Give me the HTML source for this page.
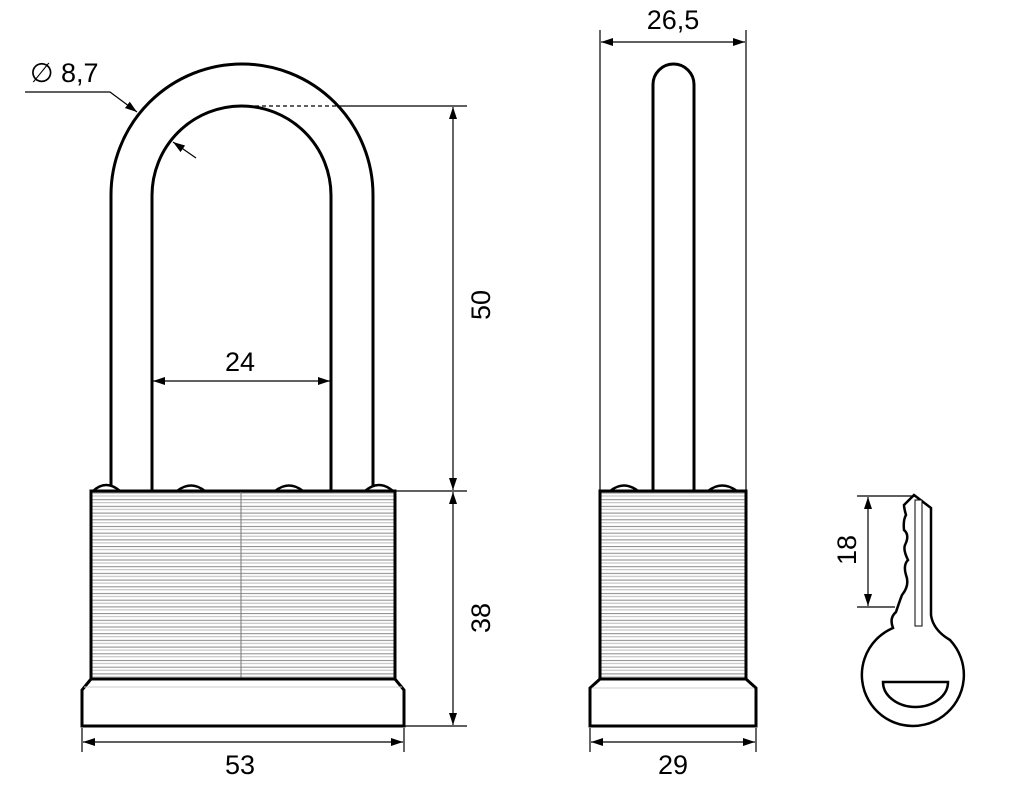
<!DOCTYPE html>
<html><head><meta charset="utf-8"><style>
html,body{margin:0;padding:0;background:#fff;}
svg{display:block;}
text{font-family:"Liberation Sans",Arial,sans-serif;font-size:27px;fill:#000;}
</style></head><body>
<svg width="1034" height="786" viewBox="0 0 1034 786" xmlns="http://www.w3.org/2000/svg">
<defs>
<marker id="a" viewBox="0 0 12 8" refX="12" refY="4" markerWidth="12" markerHeight="8" markerUnits="userSpaceOnUse" orient="auto-start-reverse"><path d="M0,0 L12,4 L0,8 z" fill="#000"/></marker>
<pattern id="st" x="0" y="491" width="10" height="6.7" patternUnits="userSpaceOnUse">
<rect width="10" height="6.7" fill="#fff"/>
<line x1="0" y1="2" x2="10" y2="2" stroke="#888" stroke-width="1"/>
<line x1="0" y1="5" x2="10" y2="5" stroke="#bbb" stroke-width="1"/>
</pattern>
</defs>

<g fill="none" stroke="#000" stroke-width="3">
<path d="M111,491 V195 A131,131 0 0 1 373,195 V491"/>
<path d="M152,491 V195.5 A89.5,89.5 0 0 1 331,195.5 V491"/>
</g>
<g fill="#fff" stroke="#000" stroke-width="2.5">
<path d="M93,491 Q106,479 120,491"/>
<path d="M177,491 Q191,480 205,491"/>
<path d="M275,491 Q289,480 303,491"/>
<path d="M365,491 Q379,479 393,491"/>
</g>
<rect x="91" y="491" width="304" height="188" fill="url(#st)" stroke="#000" stroke-width="3"/>
<line x1="241" y1="492" x2="241" y2="678" stroke="#777" stroke-width="1"/>
<path d="M91,679 L82,690 V726 H404 V690 L395,679 Z" fill="#fff" stroke="#000" stroke-width="3"/>
<line x1="84" y1="687" x2="402" y2="687" stroke="#ccc" stroke-width="1"/>

<g stroke="#000" stroke-width="1.2" fill="none">
<line x1="255" y1="106" x2="340" y2="106" stroke-dasharray="4,3"/>
<line x1="340" y1="106" x2="467" y2="106"/>
<line x1="395" y1="491" x2="467" y2="491"/>
<line x1="404" y1="726" x2="467" y2="726"/>
<line x1="453" y1="107" x2="453" y2="490" marker-start="url(#a)" marker-end="url(#a)"/>
<line x1="453" y1="492" x2="453" y2="725" marker-start="url(#a)" marker-end="url(#a)"/>
<line x1="82" y1="728" x2="82" y2="752"/>
<line x1="404" y1="728" x2="404" y2="752"/>
<line x1="83" y1="742" x2="403" y2="742" marker-start="url(#a)" marker-end="url(#a)"/>
<line x1="153" y1="381" x2="330" y2="381" marker-start="url(#a)" marker-end="url(#a)"/>
<polyline points="25,92 110,92 137,112" marker-end="url(#a)"/>
<line x1="196" y1="158" x2="173" y2="142" marker-end="url(#a)"/>
</g>
<text x="30" y="82">∅ 8,7</text>
<text x="240" y="371" text-anchor="middle">24</text>
<text x="240" y="774" text-anchor="middle">53</text>
<text transform="translate(490,305) rotate(-90)" text-anchor="middle">50</text>
<text transform="translate(490,618) rotate(-90)" text-anchor="middle">38</text>

<path d="M653,491 V84.5 A20.5,20.5 0 0 1 694,84.5 V491" fill="none" stroke="#000" stroke-width="3"/>
<g fill="#fff" stroke="#000" stroke-width="2.5">
<path d="M610,491 Q624,480 638,491"/>
<path d="M708,491 Q722,480 737,491"/>
</g>
<rect x="600" y="491" width="146" height="188" fill="url(#st)" stroke="#000" stroke-width="3"/>
<path d="M600,679 L590,688 V726 H756 V688 L746,679 Z" fill="#fff" stroke="#000" stroke-width="3"/>
<line x1="592" y1="688" x2="754" y2="688" stroke="#ccc" stroke-width="1"/>
<g stroke="#000" stroke-width="1.2" fill="none">
<line x1="600" y1="30" x2="600" y2="491"/>
<line x1="746" y1="30" x2="746" y2="491"/>
<line x1="601" y1="42" x2="745" y2="42" marker-start="url(#a)" marker-end="url(#a)"/>
<line x1="590" y1="728" x2="590" y2="752"/>
<line x1="756" y1="728" x2="756" y2="752"/>
<line x1="591" y1="742" x2="755" y2="742" marker-start="url(#a)" marker-end="url(#a)"/>
</g>
<text x="673" y="29" text-anchor="middle">26,5</text>
<text x="673" y="774" text-anchor="middle">29</text>

<path d="M914,495 L931,508 V615 Q933,630 950,640 A51,51 0 1 1 893,628 Q889,618 896,612 Q900,600 902,595 Q910,585 906,575 Q903,565 908,560 Q903,550 905,545 Q910,535 904,530 Q903,520 906,515 Q904,508 904,505 Z" fill="#fff" stroke="#000" stroke-width="2.5"/>
<rect x="915" y="500" width="7" height="126" fill="#fff" stroke="#000" stroke-width="1"/>
<path d="M883,682 H948 A32.5,25 0 0 1 883,682 Z" fill="#fff" stroke="#000" stroke-width="2.5"/>
<g stroke="#000" stroke-width="1.2" fill="none">
<line x1="857" y1="496" x2="914" y2="496"/>
<line x1="857" y1="607" x2="895" y2="607"/>
<line x1="868" y1="497" x2="868" y2="606" marker-start="url(#a)" marker-end="url(#a)"/>
</g>
<text transform="translate(856,550) rotate(-90)" text-anchor="middle">18</text>
</svg>
</body></html>
